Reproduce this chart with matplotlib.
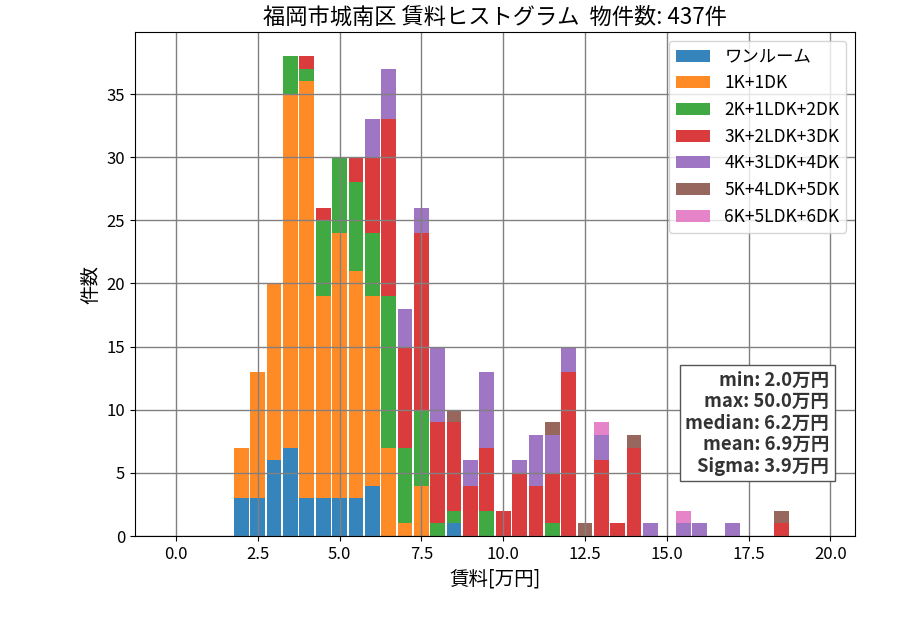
import matplotlib
matplotlib.use("Agg")
import matplotlib.pyplot as plt
import numpy as np

plt.rcParams['font.family'] = ['Noto Sans CJK JP', 'DejaVu Sans']

bin_centers = [2.0, 2.5, 3.0, 3.5, 4.0, 4.5, 5.0, 5.5, 6.0, 6.5, 7.0, 7.5, 8.0, 8.5,
               9.0, 9.5, 10.0, 10.5, 11.0, 11.5, 12.0, 12.5, 13.0, 13.5, 14.0, 14.5,
               15.0, 15.5, 16.0, 16.5, 17.0, 17.5, 18.0, 18.5]

categories = ['ワンルーム', '1K+1DK', '2K+1LDK+2DK', '3K+2LDK+3DK',
              '4K+3LDK+4DK', '5K+4LDK+5DK', '6K+5LDK+6DK']

one_room = [3, 3, 6, 7, 3, 3, 3, 3, 4, 0, 0, 0, 0, 1, 0, 0, 0, 0, 0, 0, 0, 0, 0, 0, 0, 0, 0, 0, 0, 0, 0, 0, 0, 0]
k1 =       [4, 10, 14, 28, 33, 16, 21, 18, 15, 7, 1, 4, 0, 0, 0, 0, 0, 0, 0, 0, 0, 0, 0, 0, 0, 0, 0, 0, 0, 0, 0, 0, 0, 0]
k2 =       [0, 0, 0, 3, 1, 6, 6, 7, 5, 12, 6, 6, 1, 1, 0, 2, 0, 0, 0, 1, 0, 0, 0, 0, 0, 0, 0, 0, 0, 0, 0, 0, 0, 0]
k3 =       [0, 0, 0, 0, 1, 1, 0, 2, 6, 14, 8, 14, 8, 7, 4, 5, 2, 5, 4, 4, 13, 0, 6, 1, 7, 0, 0, 0, 0, 0, 0, 0, 0, 1]
k4 =       [0, 0, 0, 0, 0, 0, 0, 0, 3, 4, 3, 2, 6, 0, 2, 6, 0, 1, 4, 3, 2, 0, 2, 0, 0, 1, 0, 1, 1, 0, 1, 0, 0, 0]
k5 =       [0, 0, 0, 0, 0, 0, 0, 0, 0, 0, 0, 0, 0, 1, 0, 0, 0, 0, 0, 1, 0, 1, 0, 0, 1, 0, 0, 0, 0, 0, 0, 0, 0, 1]
k6 =       [0, 0, 0, 0, 0, 0, 0, 0, 0, 0, 0, 0, 0, 0, 0, 0, 0, 0, 0, 0, 0, 0, 1, 0, 0, 0, 0, 1, 0, 0, 0, 0, 0, 0]

series = [one_room, k1, k2, k3, k4, k5, k6]
colors = ['tab:blue', 'tab:orange', 'tab:green', 'tab:red', 'tab:purple', 'tab:brown', 'tab:pink']

stats_text = "min: 2.0万円\nmax: 50.0万円\nmedian: 6.2万円\nmean: 6.9万円\nSigma: 3.9万円"
title = "福岡市城南区 賃料ヒストグラム  物件数: 437件"

fig = plt.figure(figsize=(9, 6.3), dpi=100)
ax = fig.add_axes([0.15, 0.149, 0.80, 0.80])

bottom = np.zeros(len(bin_centers))
for name, vals, c in zip(categories, series, colors):
    v = np.array(vals, dtype=float)
    ax.bar(bin_centers, v, width=0.45, bottom=bottom, color=c, alpha=0.9, label=name)
    bottom += v

ax.set_xlim(-1.25, 20.75)
ax.set_ylim(0, bottom.max() * 1.05)
ax.set_xticks(np.arange(0, 20.1, 2.5))
ax.set_xticklabels([f"{t:.1f}" for t in np.arange(0, 20.1, 2.5)])
ax.grid(True, color='gray', linewidth=1)
ax.tick_params(labelsize=12)
ax.set_title(title, fontsize=16)
ax.set_xlabel("賃料[万円]", fontsize=14)
ax.set_ylabel("件数", fontsize=14)
ax.legend(loc='upper right', fontsize=12.5, labelspacing=0.5)
ax.text(0.964, 0.12, stats_text, transform=ax.transAxes, ha='right', va='bottom',
        fontsize=13.3, fontweight='bold', color='#333333', linespacing=1.17,
        bbox=dict(boxstyle='square,pad=0.3', facecolor='white', edgecolor='#555555'))

fig.savefig("out.png", dpi=100)
